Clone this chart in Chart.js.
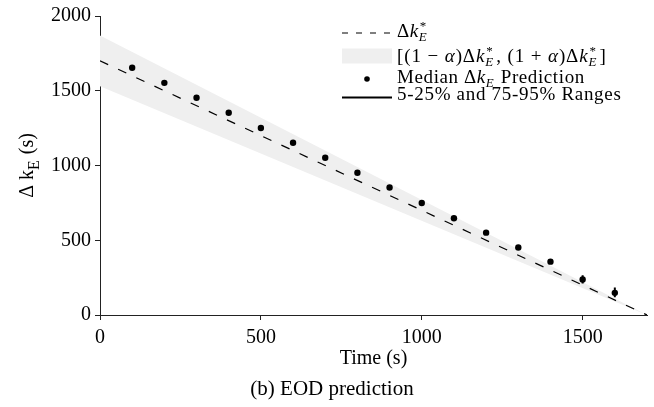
<!DOCTYPE html>
<html>
<head>
<meta charset="utf-8">
<script src="https://cdn.jsdelivr.net/npm/chart.js@4.4.1/dist/chart.umd.min.js"></script>
<style>
  html, body { margin: 0; padding: 0; background: #fff; }
</style>
</head>
<body>
<canvas id="eodChart" width="654" height="407"></canvas>
<script>
// --- Data ---
const predTimes = [100, 200, 300, 400, 500, 600, 700, 800, 900, 1000, 1100, 1200, 1300, 1400, 1500, 1600];
const medianValues = [1654, 1553, 1453, 1353, 1251, 1152, 1052, 952, 853, 749, 647, 551, 452, 357, 237, 148];
const lowValues = [1644, 1543, 1443, 1343, 1241, 1142, 1042, 942, 842, 738, 636, 540, 440, 344, 211, 118];
const highValues = [1664, 1563, 1463, 1363, 1261, 1162, 1062, 962, 864, 760, 658, 562, 464, 370, 266, 184];

const refTimes = [0, 1700];
const refValues = [1700, 0];   // true Δk*_E
const bandUpper = [1870, 0];   // (1 + α)Δk*_E
const bandLower = [1530, 0];   // (1 - α)Δk*_E

const xTicks = [0, 500, 1000, 1500];
const yTicks = [0, 500, 1000, 1500, 2000];

const serif = '"Liberation Serif", "DejaVu Serif", serif';
const fontSize = 20;
const legendSize = 19;

// --- Build datasets from the arrays ---
const toPoints = (xs, ys) => xs.map((x, i) => ({ x: x, y: ys[i] }));

const rangePoints = [];
predTimes.forEach((t, i) => {
  rangePoints.push({ x: t, y: lowValues[i] }, { x: t, y: highValues[i] }, { x: t, y: null });
});

// --- Rich text helper (italics, sub/superscripts) ---
function drawRich(ctx, x, y, parts, size, draw) {
  let cx = x;
  const small = Math.round(size * 0.7);
  parts.forEach(p => {
    const [text, style, text2] = p;
    if (style === 'ss') {
      ctx.font = small + 'px ' + serif;
      const w1 = ctx.measureText(text).width;
      if (draw) ctx.fillText(text, cx + 1, y - size * 0.36);
      ctx.font = 'italic ' + small + 'px ' + serif;
      const w2 = ctx.measureText(text2).width;
      if (draw) ctx.fillText(text2, cx, y + size * 0.22);
      cx += Math.max(w1 + 1, w2) + 2;
    } else if (style === 'isub' || style === 'rsub') {
      const sz = style === 'rsub' ? Math.round(size * 0.8) : small;
      ctx.font = (style === 'isub' ? 'italic ' : '') + sz + 'px ' + serif;
      if (draw) ctx.fillText(text, cx, y + size * (style === 'rsub' ? 0.28 : 0.2));
      cx += ctx.measureText(text).width + 1;
    } else {
      ctx.font = (style === 'i' ? 'italic ' : '') + size + 'px ' + serif;
      if (draw) ctx.fillText(text, cx, y);
      cx += ctx.measureText(text).width;
    }
  });
  return cx - x;
}

// --- Legend drawn by hand (matplotlib style, with math text) ---
const legendItems = [
  { kind: 'dash', hy: 33, by: 37, ls: 0.6, parts: [['Δ', 'r'], ['k', 'i'], ['*', 'ss', 'E']] },
  { kind: 'box', hy: 56, by: 62, ls: 0.9, parts: [['[(1 − ', 'r'], ['α', 'i'], [')Δ', 'r'], ['k', 'i'], ['*', 'ss', 'E'],
                                         [', (1 + ', 'r'], ['α', 'i'], [')Δ', 'r'], ['k', 'i'], ['*', 'ss', 'E'], [']', 'r']] },
  { kind: 'dot', hy: 79, by: 83, ls: 0.6, parts: [['Median Δ', 'r'], ['k', 'i'], ['E', 'isub'], [' Prediction', 'r']] },
  { kind: 'line', hy: 97.5, by: 100, ls: 0.7, parts: [['5-25% and 75-95% Ranges', 'r']] }
];

const legendPlugin = {
  id: 'mplLegend',
  afterDraw(chart) {
    const ctx = chart.ctx;
    const x0 = 342, x1 = 392, tx = 397;
    ctx.save();
    ctx.fillStyle = '#000';
    ctx.strokeStyle = '#000';
    ctx.textBaseline = 'alphabetic';
    legendItems.forEach(it => {
      if (it.kind === 'dash') {
        ctx.lineWidth = 1.2;
        ctx.setLineDash([6, 8]);
        ctx.beginPath(); ctx.moveTo(x0, it.hy); ctx.lineTo(x1, it.hy); ctx.stroke();
        ctx.setLineDash([]);
      } else if (it.kind === 'box') {
        ctx.fillStyle = '#efefef';
        ctx.fillRect(x0, it.hy - 7.5, x1 - x0, 15);
        ctx.fillStyle = '#000';
      } else if (it.kind === 'dot') {
        ctx.beginPath(); ctx.arc((x0 + x1) / 2, it.hy, 2.8, 0, Math.PI * 2); ctx.fill();
      } else {
        ctx.lineWidth = 2.2;
        ctx.beginPath(); ctx.moveTo(x0, it.hy); ctx.lineTo(x1, it.hy); ctx.stroke();
      }
      ctx.letterSpacing = it.ls + 'px';
      drawRich(ctx, tx, it.by, it.parts, legendSize, true);
      ctx.letterSpacing = '0px';
    });
    ctx.restore();
  }
};

// --- Y axis title with subscript, and the figure caption ---
const textPlugin = {
  id: 'extraText',
  afterDraw(chart) {
    const ctx = chart.ctx;
    const area = chart.chartArea;
    const parts = [['Δ k', 'r'], ['E', 'rsub'], [' (s)', 'r']];
    ctx.save();
    ctx.fillStyle = '#000';
    ctx.textBaseline = 'alphabetic';
    const w = drawRich(ctx, 0, 0, parts, fontSize, false);
    ctx.translate(33, (area.top + area.bottom) / 2);
    ctx.rotate(-Math.PI / 2);
    drawRich(ctx, -w / 2, 0, parts, fontSize, true);
    ctx.restore();

    ctx.save();
    ctx.fillStyle = '#000';
    ctx.font = '21px ' + serif;
    ctx.textAlign = 'center';
    ctx.textBaseline = 'alphabetic';
    ctx.fillText('(b) EOD prediction', 332, 395);
    ctx.restore();
  }
};

Chart.defaults.font.family = serif;
Chart.defaults.font.size = fontSize;
Chart.defaults.color = '#000';

const ctx = document.getElementById('eodChart').getContext('2d');
const eodChart = new Chart(ctx, {
  type: 'line',
  data: {
    datasets: [
      {
        label: 'Median',
        data: toPoints(predTimes, medianValues),
        showLine: false,
        pointRadius: 3.2,
        pointBackgroundColor: '#000',
        pointBorderWidth: 0,
        borderColor: '#000'
      },
      {
        label: 'Ranges',
        data: rangePoints,
        borderColor: '#000',
        borderWidth: 2,
        pointRadius: 0,
        spanGaps: false
      },
      {
        label: 'True',
        data: toPoints(refTimes, refValues),
        borderColor: '#000',
        borderWidth: 1.2,
        borderDash: [9, 11],
        pointRadius: 0
      },
      {
        label: 'Upper',
        data: toPoints(refTimes, bandUpper),
        borderColor: 'rgba(0,0,0,0)',
        borderWidth: 1,
        backgroundColor: '#efefef',
        pointRadius: 0,
        fill: '+1'
      },
      {
        label: 'Lower',
        data: toPoints(refTimes, bandLower),
        borderColor: 'rgba(0,0,0,0)',
        borderWidth: 1,
        pointRadius: 0,
        fill: false
      }
    ]
  },
  options: {
    responsive: false,
    animation: false,
    devicePixelRatio: 1,
    layout: { padding: { top: 14, right: 7, left: 0, bottom: 34 } },
    plugins: {
      legend: { display: false },
      tooltip: { enabled: false },
      title: { display: false }
    },
    scales: {
      x: {
        type: 'linear',
        min: 0,
        max: 1700,
        afterBuildTicks: ax => { ax.ticks = xTicks.map(v => ({ value: v })); },
        afterFit: sc => { sc.height = 58; },
        grid: { display: true, drawOnChartArea: false, drawTicks: true, tickLength: 5, color: '#222' },
        border: { display: true, color: '#222', width: 1 },
        ticks: { padding: 6, color: '#000', maxRotation: 0, callback: v => String(v) },
        title: { display: true, text: 'Time (s)', color: '#000', padding: { top: 0, bottom: 2 } }
      },
      y: {
        type: 'linear',
        min: 0,
        max: 2000,
        afterBuildTicks: ax => { ax.ticks = yTicks.map(v => ({ value: v })); },
        afterFit: sc => { sc.width = 100; },
        grid: { display: true, drawOnChartArea: false, drawTicks: true, tickLength: 5, color: '#222' },
        border: { display: true, color: '#222', width: 1 },
        ticks: { padding: 4, color: '#000', callback: v => String(v) }
      }
    }
  },
  plugins: [legendPlugin, textPlugin]
});
</script>
</body>
</html>
